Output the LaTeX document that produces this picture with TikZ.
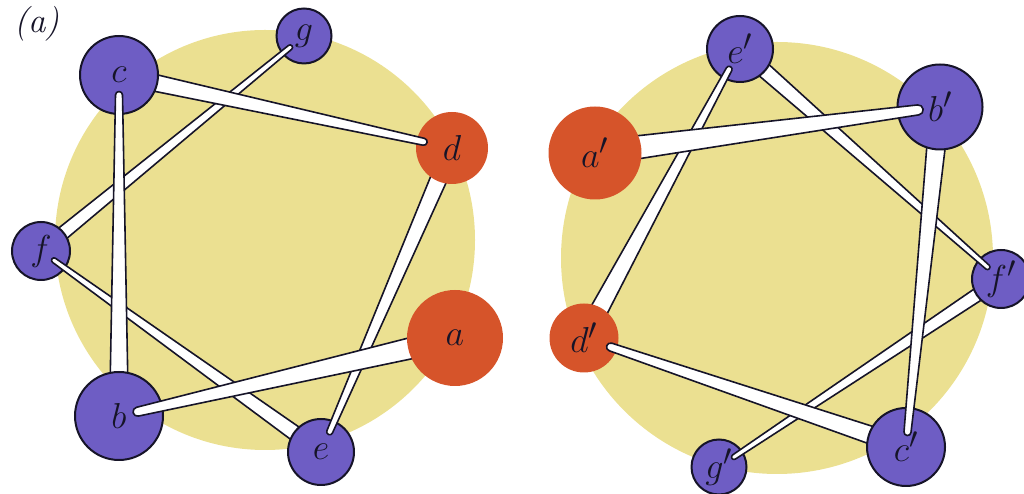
\documentclass[tikz,border=0pt]{standalone}
\usetikzlibrary{calc}
\definecolor{discyellow}{RGB}{235,224,145}
\definecolor{respurple}{RGB}{110,93,196}
\definecolor{resorange}{RGB}{214,84,42}
\definecolor{inkline}{RGB}{22,20,40}
\newcommand\reslbl[1]{\scalebox{1.45}{$#1$}}
\tikzset{
  wheel/.style={circle, fill=discyellow, inner sep=0pt},
  lbl/.style={font=\Huge, text=inkline},
  hydro/.style={circle, draw=inkline, line width=2pt, fill=respurple, inner sep=0pt, lbl},
  polar/.style={circle, fill=resorange, inner sep=0pt, lbl},
  bondline/.style={fill=white, draw=inkline, line width=1.6pt, line join=round},
}
% tapered helical-wheel bond: from, to, wide half-width, narrow half-width, cap distance from target centre
\newcommand\hbond[5]{%
  \path[bondline] let \p1=(#1), \p2=($(#2)!#5!(#1)$), \n1={atan2(\y2-\y1,\x2-\x1)} in
    ($(\p1)+(\n1+90:#3)$) -- ($(\p2)+(\n1+90:#4)$)
    arc[start angle=\n1+90, delta angle=-180, radius=#4]
    -- ($(\p1)+(\n1-90:#3)$) -- cycle;}
\begin{document}
\begin{tikzpicture}[x=1pt,y=1pt]
\useasboundingbox (0,0) rectangle (1024,494);
% positions
\coordinate (pa) at (455,156);
\coordinate (pb) at (119,78);
\coordinate (pc) at (119,419);
\coordinate (pd) at (452,346);
\coordinate (pe) at (321,42);
\coordinate (pf) at (41,243);
\coordinate (pg) at (304,458);
\coordinate (qa) at (595,341);
\coordinate (qb) at (940,387);
\coordinate (qc) at (906,47);
\coordinate (qd) at (584,156);
\coordinate (qe) at (740,445);
\coordinate (qf) at (1001,215);
\coordinate (qg) at (719,27);

\node[lbl] (panel) at (37,470) {\scalebox{1.4}{\itshape (a)}};

% left wheel
\node[wheel, minimum size=420pt] (wheelL) at (265,254) {};
\node[hydro, minimum size=55pt] (g) at (pg) {\reslbl{g}};
\hbond{pf}{pg}{7pt}{2.5pt}{18pt}
\node[hydro, minimum size=58pt] (f) at (pf) {\reslbl{f}};
\hbond{pe}{pf}{8pt}{2.5pt}{16pt}
\node[hydro, minimum size=66pt] (e) at (pe) {\reslbl{e}};
\hbond{pd}{pe}{9pt}{3pt}{22pt}
\node[polar, minimum size=72pt] (d) at (pd) {\reslbl{d}};
\hbond{pc}{pd}{9pt}{3.5pt}{29pt}
\node[hydro, minimum size=78pt] (c) at (pc) {\reslbl{c}};
\hbond{pb}{pc}{9.5pt}{3.5pt}{20pt}
\node[hydro, minimum size=88pt] (b) at (pb) {\reslbl{b}};
\hbond{pa}{pb}{11.5pt}{4.5pt}{19pt}
\node[polar, minimum size=96pt] (a) at (pa) {\reslbl{a}};

% right wheel
\node[wheel, minimum size=432pt] (wheelR) at (777,236) {};
\node[hydro, minimum size=55pt] (g2) at (qg) {\reslbl{g'}};
\hbond{qf}{qg}{7pt}{2.5pt}{18pt}
\node[hydro, minimum size=58pt] (f2) at (qf) {\reslbl{f'}};
\hbond{qe}{qf}{8pt}{2.5pt}{18pt}
\node[hydro, minimum size=66pt] (e2) at (qe) {\reslbl{e'}};
\hbond{qd}{qe}{9.5pt}{3pt}{23pt}
\node[polar, minimum size=69pt] (d2) at (qd) {\reslbl{d'}};
\hbond{qc}{qd}{9.5pt}{4pt}{28pt}
\node[hydro, minimum size=78pt] (c2) at (qc) {\reslbl{c'}};
\hbond{qb}{qc}{10pt}{3.5pt}{15pt}
\node[hydro, minimum size=85pt] (b2) at (qb) {\reslbl{b'}};
\hbond{qa}{qb}{12.5pt}{5pt}{22pt}
\node[polar, minimum size=93pt] (a2) at (qa) {\reslbl{a'}};
\end{tikzpicture}
\end{document}
